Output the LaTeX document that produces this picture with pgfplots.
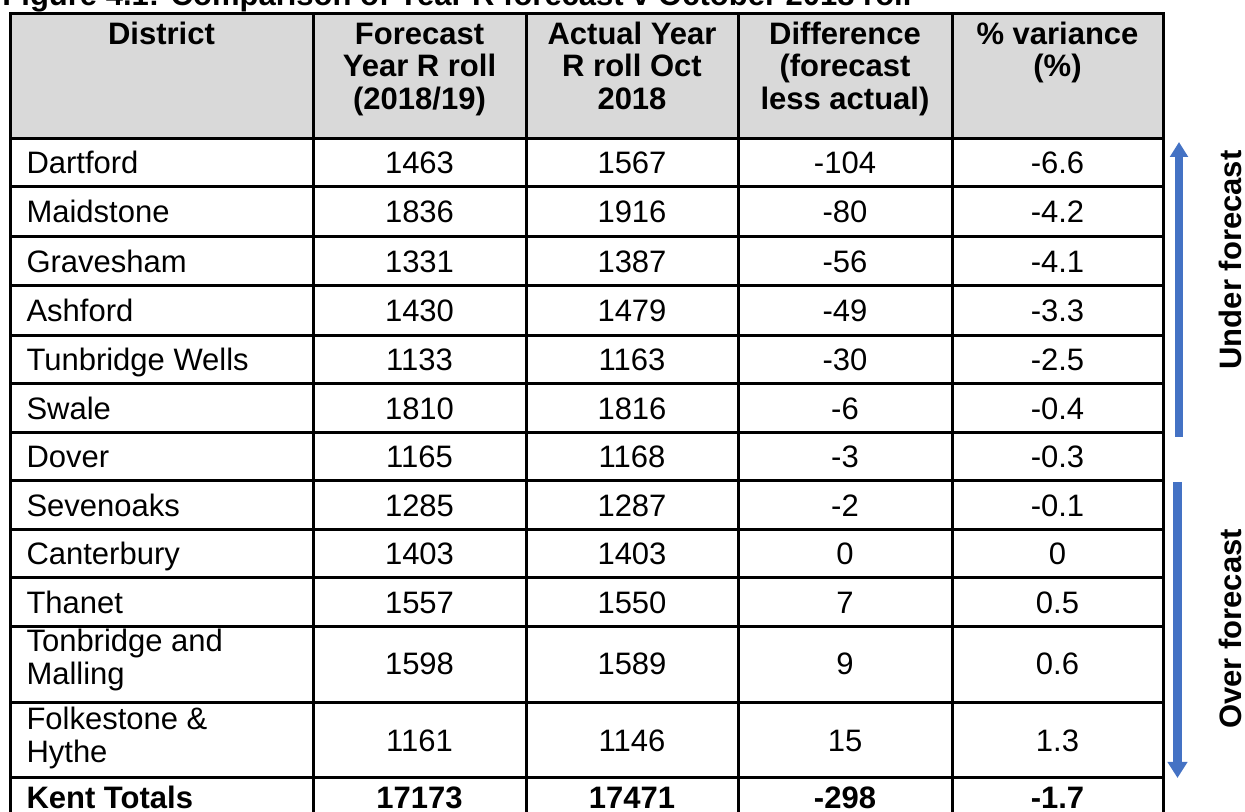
\documentclass[border=0pt]{standalone}
\usepackage{fontspec}
\setmainfont{Liberation Sans}
\usepackage{pgfplots}
\pgfplotsset{compat=1.18}
\usepackage{pgfplotstable}
\usetikzlibrary{arrows.meta}
\definecolor{hdr}{HTML}{D9D9D9}
\definecolor{arr}{HTML}{4472C4}

\pgfplotstableread{
x y label
161.5 45 District
419.5 45 Forecast
419.5 77 {Year R roll}
419.5 110 (2018/19)
632 45 {Actual Year}
632 77 {R roll Oct}
632 110 2018
845 45 Difference
845 77 (forecast
845 110 {less actual)}
1057.5 45 {\% variance}
1057.5 77 (\%)
}\headtab

\pgfplotstableread{
y label
174 Dartford
223 Maidstone
272.5 Gravesham
322 Ashford
371 {Tunbridge Wells}
419.5 Swale
468 Dover
516.5 Sevenoaks
565 Canterbury
613.5 Thanet
652 {Tonbridge and}
685 Malling
730 {Folkestone \&}
763 Hythe
}\disttab

\pgfplotstableread{
y forecast actual diff pct
174 1463 1567 -104 -6.6
223 1836 1916 -80 -4.2
272.5 1331 1387 -56 -4.1
322 1430 1479 -49 -3.3
371 1133 1163 -30 -2.5
419.5 1810 1816 -6 -0.4
468 1165 1168 -3 -0.3
516.5 1285 1287 -2 -0.1
565 1403 1403 0 0
613.5 1557 1550 7 0.5
675 1598 1589 9 0.6
752 1161 1146 15 1.3
}\numtab

\pgfplotstableread{
x y label
419.5 809 17173
632 809 17471
845 809 -298
1057.5 809 -1.7
}\tottab

\newcommand{\tf}{\fontsize{12.4}{14}\selectfont}

\begin{document}
\begin{tikzpicture}
\begin{axis}[
  name=ax,
  width=498pt, height=324.8pt, scale only axis,
  xmin=0, xmax=1245, ymin=0, ymax=812, y dir=reverse,
  hide axis, clip=false,
  point meta=explicit symbolic,
  nodes near coords={\pgfplotspointmeta},
  every node near coord/.append style={anchor=base, inner sep=0pt, text=black, font=\tf},
]
\fill[hdr] (axis cs:10,14) rectangle (axis cs:1163,139);
\pgfplotsinvokeforeach{14,139,187,237,286,336,384,433,481,530,578,627,703,778,827}{
  \draw[line width=1.2pt, line cap=rect] (axis cs:10,#1) -- (axis cs:1163,#1);
}
\pgfplotsinvokeforeach{10,313,526,738,952,1163}{
  \draw[line width=1.2pt, line cap=rect] (axis cs:#1,14) -- (axis cs:#1,827);
}

\addplot[draw=none, every node near coord/.append style={font=\tf\bfseries}]
  table[x=x, y=y, meta=label] {\headtab};
\addplot[draw=none, every node near coord/.append style={anchor=base west}]
  table[x expr=26, y=y, meta=label] {\disttab};
\addplot[draw=none] table[x expr=419.5, y=y, meta=forecast] {\numtab};
\addplot[draw=none] table[x expr=632, y=y, meta=actual] {\numtab};
\addplot[draw=none] table[x expr=845, y=y, meta=diff] {\numtab};
\addplot[draw=none] table[x expr=1057.5, y=y, meta=pct] {\numtab};
\addplot[draw=none, every node near coord/.append style={font=\tf\bfseries}]
  table[x=x, y=y, meta=label] {\tottab};
\addplot[draw=none, every node near coord/.append style={font=\tf\bfseries, anchor=base west}]
  coordinates {(26,809) [{Kent Totals}]};

\draw[arr, line width=3.2pt, -{Triangle[width=7pt,length=6pt]}]
  (axis cs:1179,437) -- (axis cs:1179,142);
\draw[arr, line width=3.4pt, -{Triangle[width=7.6pt,length=6.4pt]}]
  (axis cs:1177.5,482) -- (axis cs:1177.5,778);
\node[rotate=90, font=\tf\bfseries] at (axis cs:1230,260) {Under forecast};
\node[rotate=90, font=\tf\bfseries] at (axis cs:1230,629) {Over forecast};
\node[anchor=base west, inner sep=0pt, font=\tf\bfseries] at (axis cs:2,6)
  {Figure 4.1: Comparison of Year R forecast v October 2018 roll};
\end{axis}
\pgfresetboundingbox
\useasboundingbox (ax.south west) rectangle (ax.north east);
\end{tikzpicture}
\end{document}
